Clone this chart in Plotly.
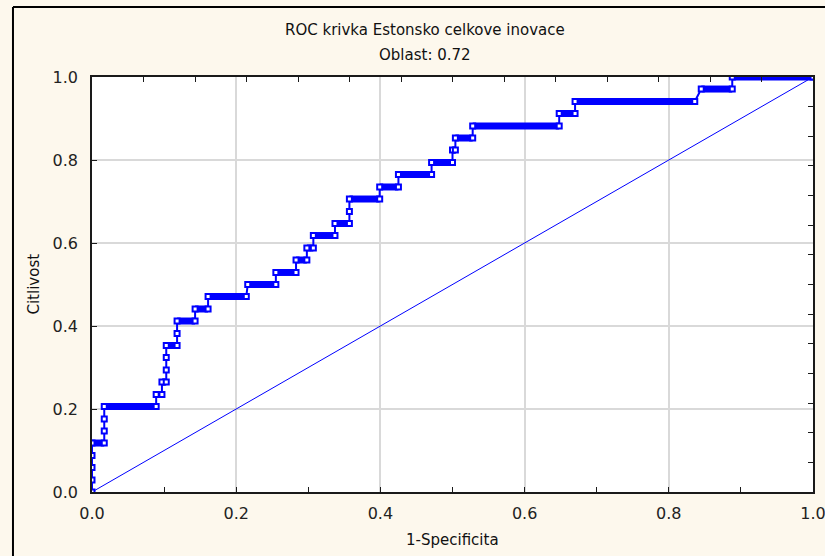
import plotly.graph_objects as go

# ROC curve vertices (1 - specificity, sensitivity), in threshold order
roc_fpr = [0.000, 0.000, 0.000, 0.000, 0.000,
           0.017, 0.017, 0.017, 0.017,
           0.089, 0.089, 0.097, 0.097,
           0.103, 0.103, 0.103, 0.103,
           0.118, 0.118, 0.118,
           0.143, 0.143, 0.161, 0.161,
           0.214, 0.216, 0.255, 0.255,
           0.283, 0.283, 0.298, 0.298,
           0.307, 0.307, 0.337, 0.337,
           0.357, 0.357, 0.357,
           0.399, 0.399, 0.425, 0.425,
           0.471, 0.471, 0.500, 0.500,
           0.504, 0.504, 0.528, 0.528,
           0.648, 0.648, 0.670, 0.670,
           0.836, 0.845, 0.888, 0.888, 1.000]
roc_tpr = [0.000, 0.029, 0.059, 0.088, 0.118,
           0.118, 0.147, 0.176, 0.206,
           0.206, 0.235, 0.235, 0.265,
           0.265, 0.294, 0.324, 0.353,
           0.353, 0.382, 0.412,
           0.412, 0.441, 0.441, 0.471,
           0.471, 0.500, 0.500, 0.529,
           0.529, 0.559, 0.559, 0.588,
           0.588, 0.618, 0.618, 0.647,
           0.647, 0.676, 0.706,
           0.706, 0.735, 0.735, 0.765,
           0.765, 0.794, 0.794, 0.824,
           0.824, 0.853, 0.853, 0.882,
           0.882, 0.912, 0.912, 0.941,
           0.941, 0.971, 0.971, 1.000, 1.000]

# Reference (chance) line
diag_x = [0.0, 1.0]
diag_y = [0.0, 1.0]

title_text = "ROC krivka Estonsko celkove inovace"
area_text = "Oblast: 0.72"
x_label = "1-Specificita"
y_label = "Citlivost"
main_ticks = [0.0, 0.2, 0.4, 0.6, 0.8, 1.0]

BLUE = "#0000FF"
AXIS = "#1a1a1a"
GRID = "#D9D9D9"
FONT = "DejaVu Sans"

# Horizontal runs of the curve are drawn as heavy bars
bar_x, bar_y = [], []
for i in range(1, len(roc_fpr)):
    if roc_tpr[i] == roc_tpr[i - 1] and roc_fpr[i] != roc_fpr[i - 1]:
        bar_x += [roc_fpr[i - 1], roc_fpr[i], None]
        bar_y += [roc_tpr[i - 1], roc_tpr[i], None]

fig = go.Figure()
fig.add_trace(go.Scatter(x=diag_x, y=diag_y, mode="lines",
                         line=dict(color=BLUE, width=1),
                         showlegend=False, hoverinfo="skip"))
fig.add_trace(go.Scatter(x=bar_x, y=bar_y, mode="lines",
                         line=dict(color=BLUE, width=7),
                         showlegend=False, hoverinfo="skip"))
fig.add_trace(go.Scatter(x=roc_fpr, y=roc_tpr, mode="lines+markers",
                         line=dict(color=BLUE, width=2),
                         marker=dict(symbol="square", size=5, color="white",
                                     line=dict(color=BLUE, width=2)),
                         showlegend=False))
# carrier for the secondary (top / right) axes
fig.add_trace(go.Scatter(x=[None], y=[None], xaxis="x2", yaxis="y2",
                         showlegend=False, hoverinfo="skip"))

fig.update_layout(
    width=825, height=556,
    margin=dict(l=92, r=12, t=77, b=64, autoexpand=False),
    paper_bgcolor="#FDF8ED",
    plot_bgcolor="white",
    font=dict(family=FONT, color="#222222", size=16),
    xaxis=dict(range=[0, 1], tickmode="array", tickvals=main_ticks,
               tickformat=".1f", ticks="inside", ticklen=5, tickcolor=AXIS,
               showgrid=True, gridcolor=GRID, gridwidth=1.5,
               zeroline=False, showline=True, linecolor=AXIS, linewidth=1.5,
               minor=dict(dtick=0.1, tick0=0, ticks="inside", ticklen=5,
                          tickcolor=AXIS, showgrid=False),
               ticklabelstandoff=6, ticklabeloverflow="allow",
               automargin=False, tickfont=dict(size=16)),
    yaxis=dict(range=[0, 1], tickmode="array", tickvals=main_ticks,
               tickformat=".1f", ticks="inside", ticklen=5, tickcolor=AXIS,
               showgrid=True, gridcolor=GRID, gridwidth=1.5,
               zeroline=False, showline=True, linecolor=AXIS, linewidth=1.5,
               ticklabelstandoff=9, ticklabeloverflow="allow",
               automargin=False, tickfont=dict(size=16)),
    xaxis2=dict(range=[0, 1], overlaying="x", side="top", anchor="y2",
                tickmode="linear", tick0=0, dtick=1 / 14,
                ticks="inside", ticklen=5, tickcolor=AXIS,
                showticklabels=False, showgrid=False, zeroline=False,
                showline=True, linecolor=AXIS, linewidth=1.5,
                automargin=False),
    yaxis2=dict(range=[0, 1], overlaying="y", side="right", anchor="x2",
                tickmode="linear", tick0=0, dtick=1 / 14,
                ticks="inside", ticklen=5, tickcolor=AXIS,
                showticklabels=False, showgrid=False, zeroline=False,
                showline=True, linecolor=AXIS, linewidth=1.5,
                automargin=False),
    annotations=[
        dict(text=title_text, x=0.4619, y=1.1133, xref="paper", yref="paper",
             xanchor="center", yanchor="middle", showarrow=False,
             font=dict(family=FONT, size=15, color="#111111")),
        dict(text=area_text, x=0.4619, y=1.053, xref="paper", yref="paper",
             xanchor="center", yanchor="middle", showarrow=False,
             font=dict(family=FONT, size=15, color="#111111")),
        dict(text=x_label, x=0.5, y=-0.1157, xref="paper", yref="paper",
             xanchor="center", yanchor="middle", showarrow=False,
             font=dict(family=FONT, size=15, color="#111111")),
        dict(text=y_label, x=-0.0818, y=0.5, xref="paper", yref="paper",
             xanchor="center", yanchor="middle", showarrow=False,
             textangle=-90,
             font=dict(family=FONT, size=15, color="#111111")),
    ],
    shapes=[
        dict(type="line", xref="paper", yref="paper",
             x0=-0.1096, x1=-0.1096, y0=-0.3, y1=1.1687,
             line=dict(color="black", width=2)),
        dict(type="line", xref="paper", yref="paper",
             x0=-0.1096, x1=1.2, y0=1.1687, y1=1.1687,
             line=dict(color="black", width=2)),
    ],
)

fig.write_html("out.html")
